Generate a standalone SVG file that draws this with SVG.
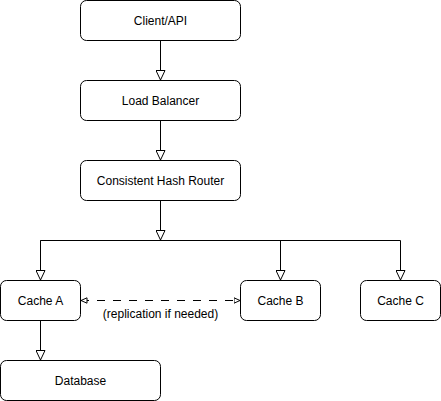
<svg xmlns="http://www.w3.org/2000/svg" width="441" height="401" viewBox="0 0 441 401">
<defs>
<style>
.node rect{fill:#fff;stroke:#000;stroke-width:1}
.node text,.lbl{font-family:"Liberation Sans",Arial,sans-serif;font-size:12px;fill:#000;text-anchor:middle}
.edge{fill:none;stroke:#000;stroke-width:1}
.dash{stroke-dasharray:8 8}
</style>
<marker id="tri" viewBox="0 0 10 10" refX="10" refY="5" markerWidth="10" markerHeight="10" markerUnits="userSpaceOnUse" orient="auto">
<path d="M0.5,0.5 L10,5 L0.5,9.5 Z" fill="#fff" stroke="#000" stroke-width="1"/>
</marker>
<marker id="tris" viewBox="0 0 7 7" refX="6.5" refY="3.5" markerWidth="7" markerHeight="7" markerUnits="userSpaceOnUse" orient="auto-start-reverse">
<path d="M0.5,0.8 L6.5,3.5 L0.5,6.2 Z" fill="#fff" stroke="#000" stroke-width="1"/>
</marker>
</defs>
<rect width="441" height="401" fill="#fff"/>
<g id="connectors">
<path class="edge" d="M160.5,40.5 V80" marker-end="url(#tri)"/>
<path class="edge" d="M160.5,120.5 V160" marker-end="url(#tri)"/>
<path class="edge" d="M160.5,200.5 V240" marker-end="url(#tri)"/>
<path class="edge" d="M40.5,280 V240.5 H400.5 V280" marker-end="url(#tri)"/>
<path class="edge" d="M280.5,240.5 V280" marker-end="url(#tri)"/>
<path class="edge" d="M40.5,240.5 V280" marker-end="url(#tri)"/>
<path class="edge" d="M40.5,320.5 V360" marker-end="url(#tri)"/>
<path class="edge dash" d="M81,300.5 H240" marker-start="url(#tris)" marker-end="url(#tris)"/>
<text class="lbl" x="160.5" y="318">(replication if needed)</text>
</g>
<g id="client" class="node"><rect x="80.5" y="0.5" width="160" height="40" rx="6"/><text x="160.5" y="24.5">Client/API</text></g>
<g id="lb" class="node"><rect x="80.5" y="80.5" width="160" height="40" rx="6"/><text x="160.5" y="104.5">Load Balancer</text></g>
<g id="router" class="node"><rect x="80.5" y="160.5" width="160" height="40" rx="6"/><text x="160.5" y="184.5">Consistent Hash Router</text></g>
<g id="cacheA" class="node"><rect x="0.5" y="280.5" width="80" height="40" rx="6"/><text x="40.5" y="304.5">Cache A</text></g>
<g id="cacheB" class="node"><rect x="240.5" y="280.5" width="80" height="40" rx="6"/><text x="280.5" y="304.5">Cache B</text></g>
<g id="cacheC" class="node"><rect x="360.5" y="280.5" width="80" height="40" rx="6"/><text x="400.5" y="304.5">Cache C</text></g>
<g id="db" class="node"><rect x="0.5" y="360.5" width="160" height="40" rx="6"/><text x="80.5" y="384.5">Database</text></g>
</svg>
